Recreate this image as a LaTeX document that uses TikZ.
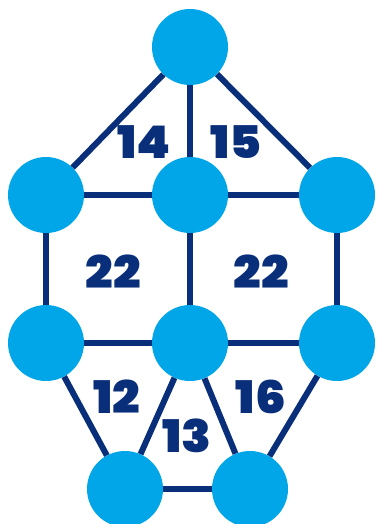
\documentclass[tikz,border=0pt]{standalone}
\usepackage{fontspec}
\setmainfont{Poppins}
\newfontfamily\heavyfont[FakeStretch=1.08]{Poppins Black}
\usetikzlibrary{positioning}
\definecolor{ballblue}{HTML}{00A6E8}
\definecolor{edgeblue}{HTML}{0A2F7A}

\begin{document}
\begin{tikzpicture}[x=1pt, y=-1pt,
    ball/.style={circle, fill=ballblue, minimum size=76pt, inner sep=0pt},
    link/.style={draw=edgeblue, line width=6pt},
    face/.style={text=edgeblue, font=\heavyfont\fontsize{45}{45}\selectfont}]
      \useasboundingbox (0,0) rectangle (376,524);
      \clip (0,0) rectangle (376,524);

      \node[ball] (top) at (190,47) {};
      \node[ball] (ml) at (46,195) {};
      \node[ball] (mc) at (190,195) {};
      \node[ball] (mr) at (337,195) {};
      \node[ball] (ll) at (46,343) {};
      \node[ball] (lc) at (190,343) {};
      \node[ball] (lr) at (337,343) {};
      \node[ball] (bl) at (125,489) {};
      \node[ball] (br) at (250,489) {};

      \draw[link] (top) -- (ml);
      \draw[link] (top) -- (mc);
      \draw[link] (top) -- (mr);
      \draw[link] (ml) -- (mc);
      \draw[link] (mc) -- (mr);
      \draw[link] (ml) -- (ll);
      \draw[link] (mc) -- (lc);
      \draw[link] (mr) -- (lr);
      \draw[link] (ll) -- (lc);
      \draw[link] (lc) -- (lr);
      \draw[link] (ll) -- (bl);
      \draw[link] (lc) -- (bl);
      \draw[link] (lc) -- (br);
      \draw[link] (lr) -- (br);
      \draw[link] (bl) -- (br);

      \node[face] (f14) at (144,142) {14};
      \node[face] (f15) at (236,142) {15};
      \node[face] (f22a) at (113,272) {22};
      \node[face] (f22b) at (261,272) {22};
      \node[face] (f12) at (117,397) {12};
      \node[face] (f16) at (261,397) {16};
      \node[face] (f13) at (187,436) {13};
    \end{tikzpicture}
\end{document}
